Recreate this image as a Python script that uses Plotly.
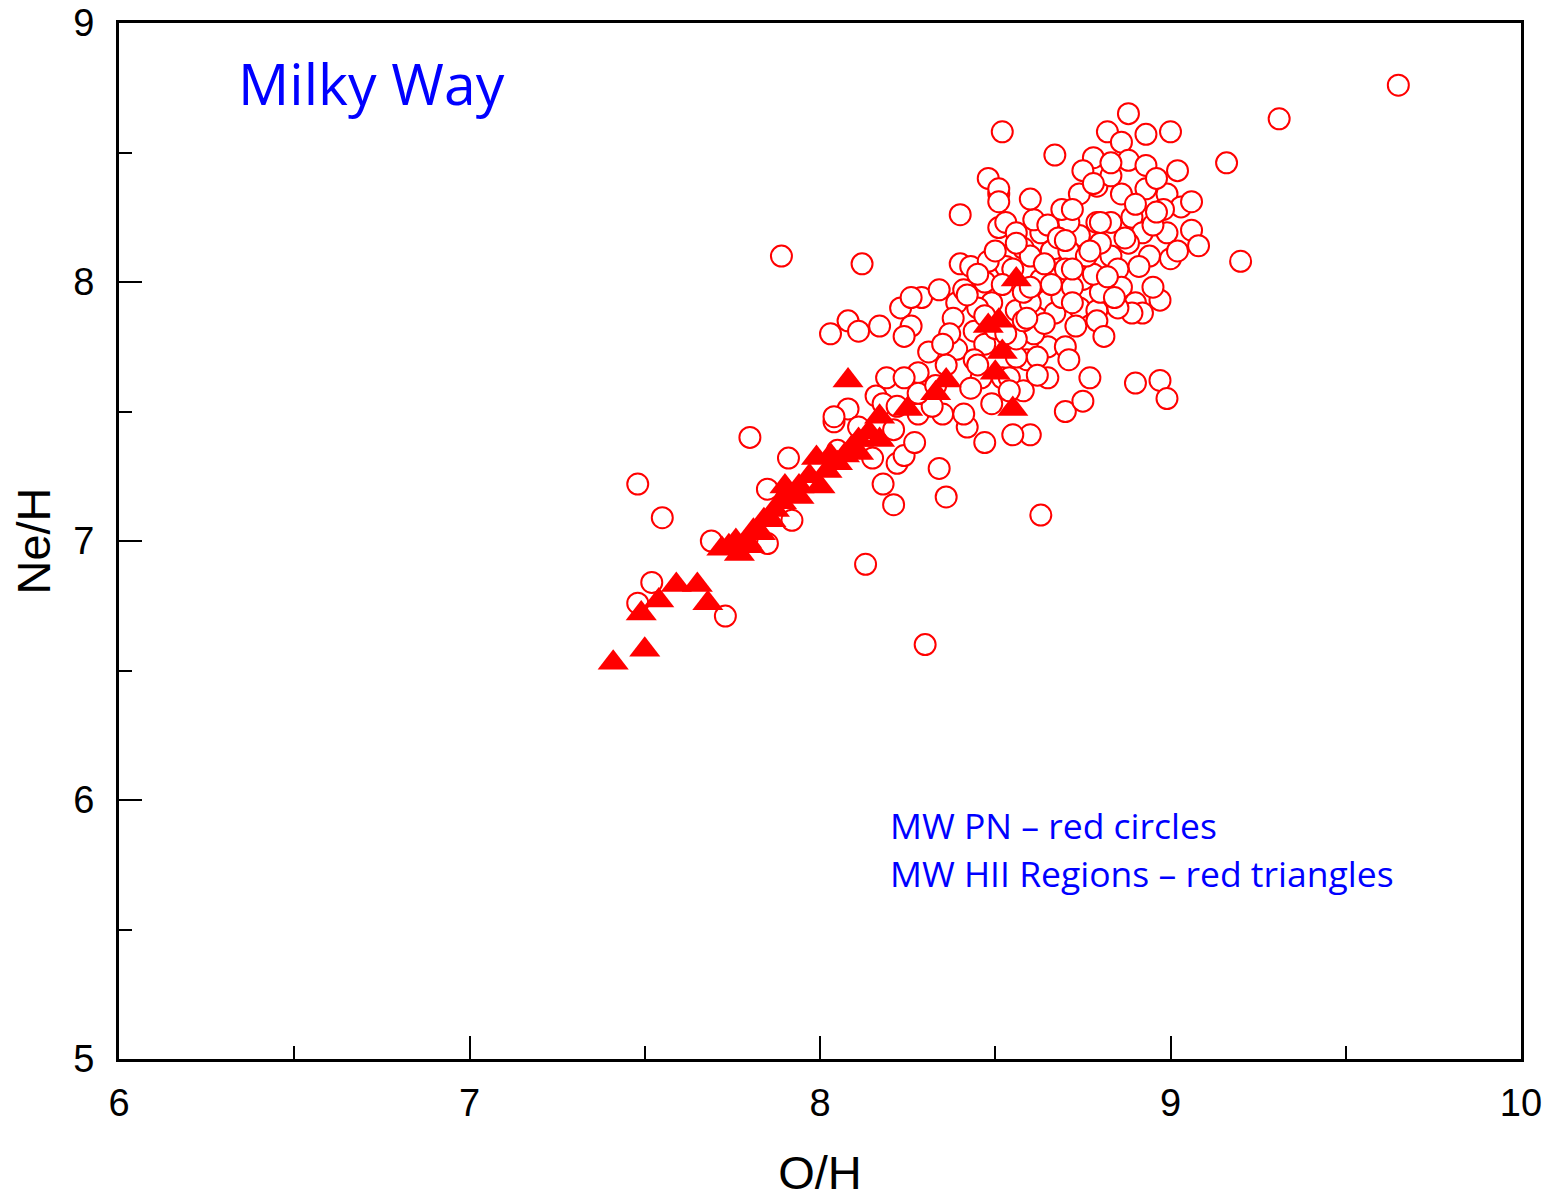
import plotly.graph_objects as go

# Milky Way planetary nebulae: O/H and Ne/H abundances (12 + log X/H)
pn_oh = [
    9.65, 9.31, 9.16, 9.20, 7.89, 8.12, 8.52, 8.67, 8.88, 8.82, 8.93, 9.00, 8.40,
    7.48, 7.55, 7.52, 7.48, 7.73, 7.69, 7.80, 7.91, 7.85, 7.92, 7.85, 8.13, 8.30,
    8.63, 8.36, 8.34, 8.21, 8.18, 8.60, 8.55, 8.47, 8.42, 8.49, 8.70, 8.75, 8.77,
    8.90, 8.97, 8.99, 8.65, 8.08, 8.15, 8.22, 8.24, 8.27, 8.35, 8.41, 8.21, 8.28,
    8.04, 8.05, 8.03, 8.08, 8.11, 8.17, 8.23, 8.29, 8.34, 8.26, 8.24, 8.31, 8.28,
    8.19, 8.24, 8.16, 8.04, 8.32, 8.59, 8.65, 8.61, 8.49, 8.56, 8.39, 8.38, 8.44,
    8.47, 8.39, 8.46, 8.52, 8.40, 8.43, 8.53, 8.58, 8.65, 8.51, 8.66, 8.63, 8.65,
    8.67, 8.48, 8.41, 8.37, 8.18, 8.22, 8.28, 8.43, 8.54, 8.56, 8.62, 8.11, 8.26,
    8.74, 8.79, 8.86, 8.93, 8.99, 9.03, 9.06, 9.08, 8.98, 8.99, 8.89, 8.92, 9.00,
    8.94, 8.91, 8.83, 8.83, 8.85, 8.74, 8.71, 8.63, 8.61, 8.53, 8.68, 8.75, 8.69,
    8.74, 8.79, 8.86, 8.90, 8.92, 8.97, 8.60, 8.64, 8.73, 8.56, 8.79, 8.51, 8.86,
    8.78, 8.88, 8.93, 9.02, 8.75, 8.83, 8.78, 9.06, 8.65, 8.48, 8.51, 8.51, 8.79,
    8.55, 8.80, 8.89, 8.78, 8.85, 8.71, 8.58,
    8.45, 8.47, 8.52, 8.58, 8.60, 8.70, 8.72, 8.68, 8.76, 8.80, 8.82, 8.88, 8.95,
    8.56, 8.44, 8.36, 8.33, 8.50, 8.58, 8.70, 8.72, 8.60,
    8.56, 8.64, 8.70, 8.72, 8.77, 8.87, 8.80, 8.69, 8.60, 8.96, 8.84, 8.66, 8.59,
    8.53, 8.47, 8.42, 8.35, 8.45, 8.54, 8.62, 8.71, 8.81, 8.95, 9.02, 8.90, 8.83,
    8.96, 8.72, 8.50, 8.45,
]
pn_neh = [
    8.76, 8.63, 8.46, 8.08, 8.10, 8.07, 8.58, 8.49, 8.65, 8.58, 8.57, 8.58, 8.26,
    7.22, 7.09, 6.84, 6.76, 6.71, 7.00, 7.40, 7.32, 7.20, 7.08, 6.99, 6.91, 6.60,
    7.10, 7.17, 7.28, 7.14, 7.22, 7.41, 7.41, 7.38, 7.44, 7.53, 7.50, 7.54, 7.63,
    7.61, 7.62, 7.55, 7.63, 7.51, 7.32, 7.30, 7.33, 7.38, 7.49, 7.49, 7.43, 7.49,
    7.46, 7.35, 7.80, 7.85, 7.81, 7.83, 7.90, 7.94, 7.97, 7.83, 7.79, 7.73, 7.65,
    7.63, 7.63, 7.56, 7.48, 7.52, 7.70, 7.75, 7.80, 7.92, 7.89, 7.92, 7.86, 7.81,
    7.76, 7.74, 7.63, 7.63, 8.07, 8.06, 8.06, 8.13, 8.20, 8.21, 8.12, 8.01, 7.93,
    7.88, 8.08, 7.97, 7.80, 7.53, 7.52, 7.57, 7.59, 7.63, 7.71, 7.71, 7.44, 7.94,
    8.34, 8.37, 8.34, 8.36, 8.34, 8.29, 8.20, 8.14, 8.28, 8.19, 8.25, 8.19, 8.09,
    8.10, 8.06, 8.23, 8.10, 8.05, 8.18, 8.23, 8.19, 8.24, 8.23, 8.05, 8.01, 7.94,
    7.90, 7.89, 7.98, 7.92, 7.88, 7.93, 7.92, 7.84, 7.83, 7.78, 7.85, 8.34, 8.54,
    8.48, 8.47, 8.45, 8.43, 8.43, 8.41, 8.38, 8.31, 8.22, 8.40, 8.36, 8.31, 8.23,
    8.05, 7.96, 7.88, 8.03, 7.90, 8.12, 7.58,
    7.90, 8.00, 7.99, 7.96, 8.10, 8.05, 7.98, 8.17, 8.10, 8.15, 8.02, 8.15, 8.22,
    8.19, 7.70, 7.68, 7.60, 7.82, 7.85, 7.75, 7.92, 7.98,
    8.15, 8.07, 8.16, 8.05, 8.12, 8.17, 8.23, 8.28, 8.32, 8.27, 7.94, 7.99, 7.86,
    7.80, 7.87, 7.95, 7.76, 7.68, 7.58, 7.64, 7.70, 7.79, 7.98, 8.12, 8.30, 8.46,
    8.40, 8.28, 8.12, 8.03,
]

# Milky Way H II regions
hii_oh = [
    7.41, 7.50, 7.49, 7.54, 7.59, 7.65, 7.68, 7.72, 7.74, 7.77, 7.80, 7.83, 7.86,
    7.89, 7.91, 7.94, 7.99, 8.00, 8.05, 8.09, 8.11, 8.14, 8.17, 8.17, 8.08, 8.25,
    8.33, 8.36, 8.48, 8.51, 8.56, 8.52, 8.50, 8.55, 7.79, 7.90, 7.97, 8.03, 8.07,
    7.94, 7.87, 7.84, 7.81, 7.76, 8.02, 8.11,
]
hii_neh = [
    6.53, 6.58, 6.72, 6.77, 6.83, 6.83, 6.76, 6.97, 6.98, 6.95, 6.98, 7.03, 7.08,
    7.15, 7.19, 7.17, 7.32, 7.21, 7.30, 7.36, 7.39, 7.42, 7.48, 7.39, 7.62, 7.51,
    7.57, 7.62, 7.83, 7.85, 8.01, 7.73, 7.65, 7.51, 7.00, 7.21, 7.25, 7.33, 7.33,
    7.21, 7.12, 7.08, 7.04, 7.00, 7.27, 7.34,
]

x_ticks = [6, 7, 8, 9, 10]
y_ticks = [5, 6, 7, 8, 9]

RED = "#ff0000"
BLUE = "#0000ff"
TICK_FONT = dict(family="Liberation Sans, Arial, sans-serif", size=38, color="black")
TITLE_FONT = dict(family="Liberation Sans, Arial, sans-serif", size=47, color="black")
NOTE_FONT = "Open Sans, Lato, sans-serif"

fig = go.Figure()

fig.add_trace(go.Scatter(
    x=pn_oh, y=pn_neh, mode="markers", name="MW PN",
    marker=dict(symbol="circle", size=21, color="white",
                line=dict(color=RED, width=2)),
))
fig.add_trace(go.Scatter(
    x=hii_oh, y=hii_neh, mode="markers", name="MW HII Regions",
    marker=dict(symbol="triangle-up", size=27, color=RED,
                line=dict(color=RED, width=0)),
))

axis_common = dict(
    showgrid=False, zeroline=False, showline=True, linecolor="black",
    linewidth=3, mirror=True, ticks="inside", tickcolor="black",
    tickwidth=2, ticklen=23, tickfont=TICK_FONT, automargin=False,
    minor=dict(ticks="inside", ticklen=13, tickwidth=2, tickcolor="black",
               dtick=0.5, showgrid=False),
)

fig.update_xaxes(
    range=[6, 10], tickvals=x_ticks, ticktext=[str(v) for v in x_ticks],
    title=dict(text="O/H", font=TITLE_FONT, standoff=34),
    ticklabelstandoff=8, **axis_common,
)
fig.update_yaxes(
    range=[5, 9], tickvals=y_ticks, ticktext=[str(v) for v in y_ticks],
    title=dict(text="Ne/H", font=TITLE_FONT, standoff=8),
    ticklabelstandoff=14, **axis_common,
)

fig.add_annotation(
    x=6.335, y=8.77, xref="x", yref="y", text="Milky Way", showarrow=False,
    xanchor="left", yanchor="middle",
    font=dict(family=NOTE_FONT, size=57, color=BLUE),
)
fig.add_annotation(
    x=8.195, y=5.905, xref="x", yref="y", text="MW PN \u2013 red circles",
    showarrow=False, xanchor="left", yanchor="middle",
    font=dict(family=NOTE_FONT, size=35.5, color=BLUE),
)
fig.add_annotation(
    x=8.195, y=5.718, xref="x", yref="y", text="MW HII Regions \u2013 red triangles",
    showarrow=False, xanchor="left", yanchor="middle",
    font=dict(family=NOTE_FONT, size=35.5, color=BLUE),
)

fig.update_layout(
    width=1557, height=1199,
    margin=dict(l=119, r=36, t=23, b=140),
    paper_bgcolor="white", plot_bgcolor="white",
    showlegend=False,
)

fig.write_html("out.html")
